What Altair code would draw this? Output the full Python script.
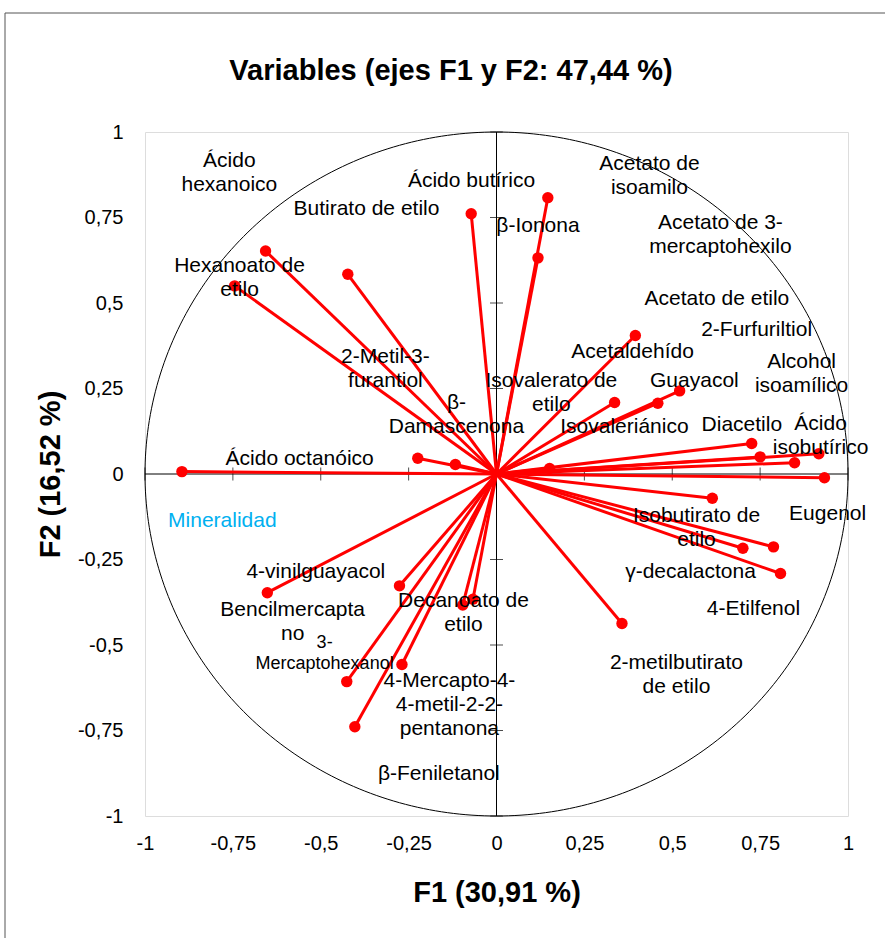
import altair as alt
import numpy as np
import pandas as pd

FONT = "Liberation Sans"

# ---- variable loadings (points) ----
var_names = [
    "Ácido octanóico", "Hexanoato de etilo", "Ácido hexanoico", "Butirato de etilo",
    "Ácido butírico", "2-Metil-3-furantiol", "β-Damascenona",
    "Acetato de isoamilo", "β-Ionona", "Acetato de etilo", "Isovalerato de etilo",
    "Isovaleriánico", "Guayacol", "Diacetilo", "Alcohol isoamílico", "2-Furfuriltiol",
    "Ácido isobutírico", "Acetaldehído",
    "Eugenol", "Isobutirato de etilo", "γ-decalactona", "Acetato de 3-mercaptohexilo",
    "4-Etilfenol", "2-metilbutirato de etilo",
    "4-vinilguayacol", "Bencilmercaptano", "Decanoato de etilo", "Mineralidad",
    "4-Mercapto-4-metil-2-pentanona", "3-Mercaptohexanol", "β-Feniletanol",
]
f1 = [-0.895, -0.745, -0.657, -0.423, -0.072, -0.224, -0.117,
      0.146, 0.118, 0.395, 0.336, 0.459, 0.521, 0.726, 0.750, 0.848, 0.917, 0.151,
      0.933, 0.614, 0.701, 0.788, 0.808, 0.357,
      -0.652, -0.276, -0.096, -0.067, -0.269, -0.426, -0.403]
f2 = [0.007, 0.550, 0.652, 0.584, 0.761, 0.046, 0.028,
      0.808, 0.632, 0.405, 0.209, 0.207, 0.243, 0.089, 0.050, 0.033, 0.059, 0.016,
      -0.011, -0.071, -0.217, -0.213, -0.291, -0.437,
      -0.347, -0.327, -0.383, -0.366, -0.557, -0.607, -0.739]

# ---- label texts and the position of their first line (data units) ----
label_text = [
    "Ácido\nhexanoico", "Ácido butírico", "Acetato de\nisoamilo", "Butirato de etilo",
    "β-Ionona", "Acetato de 3-\nmercaptohexilo", "Hexanoato de\netilo", "Acetato de etilo",
    "2-Furfuriltiol", "2-Metil-3-\nfurantiol", "Acetaldehído", "Alcohol\nisoamílico",
    "Isovalerato de\netilo", "Guayacol", "β-\nDamascenona", "Isovaleriánico", "Diacetilo",
    "Ácido\nisobutírico", "Ácido octanóico", "Eugenol", "Isobutirato de\netilo",
    "γ-decalactona", "4-vinilguayacol", "4-Etilfenol", "Bencilmercapta\nno",
    "Decanoato de\netilo", "2-metilbutirato\nde etilo", "4-Mercapto-4-\n4-metil-2-2-\npentanona",
    "β-Feniletanol", "Mineralidad",
]
label_f1 = [-0.760, -0.071, 0.435, -0.370, 0.118, 0.637, -0.731, 0.627, 0.740, -0.316,
            0.387, 0.868, 0.156, 0.563, -0.114, 0.364, 0.698, 0.922, -0.560, 0.942,
            0.569, 0.552, -0.514, 0.731, -0.580, -0.094, 0.512, -0.134, -0.164, -0.780]
label_f2 = [0.915, 0.857, 0.906, 0.775, 0.725, 0.734, 0.607, 0.512, 0.421, 0.342,
            0.358, 0.327, 0.273, 0.273, 0.208, 0.137, 0.143, 0.146, 0.044, -0.117,
            -0.123, -0.287, -0.287, -0.396, -0.399, -0.371, -0.554, -0.604, -0.877, -0.137]
label_color = ["black"] * 29 + ["#00b0f0"]

small_text = ["3-\nMercaptohexanol"]
small_f1 = [-0.489]
small_f2 = [-0.494]

ticks = [-1, -0.75, -0.5, -0.25, 0, 0.25, 0.5, 0.75, 1]
title_text = "Variables (ejes F1 y F2: 47,44 %)"

# ---- tables ----
pts = pd.DataFrame({"name": var_names, "f1": f1, "f2": f2, "o": 0.0})
labels = pd.DataFrame({"label": label_text, "lx": label_f1, "ly": label_f2, "col": label_color})
small = pd.DataFrame({"label": small_text, "lx": small_f1, "ly": small_f2})
theta = np.linspace(0, 2 * np.pi, 361)
circ = pd.DataFrame({"cx": np.cos(theta), "cy": np.sin(theta), "k": np.arange(361)})
tick_df = pd.DataFrame({"v": ticks, "zero": 0.0})
axis_df = pd.DataFrame({"lo": [-1.0], "hi": [1.0], "zero": [0.0], "t": [title_text]})

xs = alt.Scale(domain=[-1, 1], nice=False, zero=False)
ys = alt.Scale(domain=[-1, 1], nice=False, zero=False)
lab_expr = "replace(toString(datum.value), '.', ',')"

x_axis = alt.Axis(values=ticks, labelExpr=lab_expr, grid=False, domain=False, ticks=False,
                  tickSize=0, labelPadding=17, labelFontSize=20, labelFont=FONT,
                  labelColor="black", labelFlush=False, labelOverlap=False,
                  titleFont=FONT, titleFontSize=29, titleFontWeight="bold",
                  titleColor="black", titleY=76, titleBaseline="middle")
y_axis = alt.Axis(values=ticks, labelExpr=lab_expr, grid=False, domain=False, ticks=False,
                  tickSize=0, labelPadding=22, labelFontSize=20, labelFont=FONT,
                  labelColor="black", labelFlush=False, labelOverlap=False,
                  titleFont=FONT, titleFontSize=29, titleFontWeight="bold",
                  titleColor="black", titleX=-95, titleBaseline="middle")


def X(field):
    return alt.X(field, scale=xs, axis=x_axis, title="F1 (30,91 %)")


def Y(field):
    return alt.Y(field, scale=ys, axis=y_axis, title="F2 (16,52 %)")


frame = alt.Chart(axis_df).mark_rect(fillOpacity=0, stroke="#555555", strokeWidth=1).encode(
    x=alt.value(-140), x2=alt.value(760), y=alt.value(-119), y2=alt.value(830))

title = alt.Chart(axis_df).mark_text(font=FONT, fontSize=29, fontWeight="bold", color="black",
                                     align="center", baseline="alphabetic").encode(
    x=alt.value(306), y=alt.value(-52), text="t:N")

circle = alt.Chart(circ).mark_line(color="black", strokeWidth=1).encode(
    x=X("cx:Q"), y=Y("cy:Q"), order="k:Q")

vline = alt.Chart(axis_df).mark_rule(color="black", strokeWidth=1).encode(
    x=X("zero:Q"), y=Y("lo:Q"), y2="hi:Q")
hline = alt.Chart(axis_df).mark_rule(color="black", strokeWidth=1).encode(
    y=Y("zero:Q"), x=X("lo:Q"), x2="hi:Q")

xticks = alt.Chart(tick_df).mark_tick(orient="vertical", size=13, thickness=1, color="black").encode(
    x=X("v:Q"), y=Y("zero:Q"))
yticks = alt.Chart(tick_df).mark_tick(orient="horizontal", size=13, thickness=1, color="black").encode(
    y=Y("v:Q"), x=X("zero:Q"))

rays = alt.Chart(pts).mark_rule(color="#ff0000", strokeWidth=3).encode(
    x=X("o:Q"), y=Y("o:Q"), x2="f1:Q", y2="f2:Q")

dots = alt.Chart(pts).mark_circle(color="#ff0000", size=130, opacity=1).encode(
    x=X("f1:Q"), y=Y("f2:Q"), tooltip=["name:N", "f1:Q", "f2:Q"])

texts = alt.Chart(labels).mark_text(font=FONT, fontSize=21, lineBreak="\n", lineHeight=24,
                                    align="center", baseline="middle").encode(
    x=X("lx:Q"), y=Y("ly:Q"), text="label:N", color=alt.Color("col:N", scale=None))

small_texts = alt.Chart(small).mark_text(font=FONT, fontSize=18, lineBreak="\n", lineHeight=21,
                                         align="center", baseline="middle", color="black").encode(
    x=X("lx:Q"), y=Y("ly:Q"), text="label:N")

chart = alt.layer(
    frame, title, circle, vline, hline, xticks, yticks, rays, dots, texts, small_texts
).properties(
    width=703, height=684,
    autosize=alt.AutoSizeParams(type="none"),
    padding={"left": 145, "top": 132, "right": 37, "bottom": 122},
).configure_view(stroke="#b3b3b3", strokeWidth=1).configure(background="white")

chart.save("out.html", embed_options={"renderer": "svg", "actions": False})
